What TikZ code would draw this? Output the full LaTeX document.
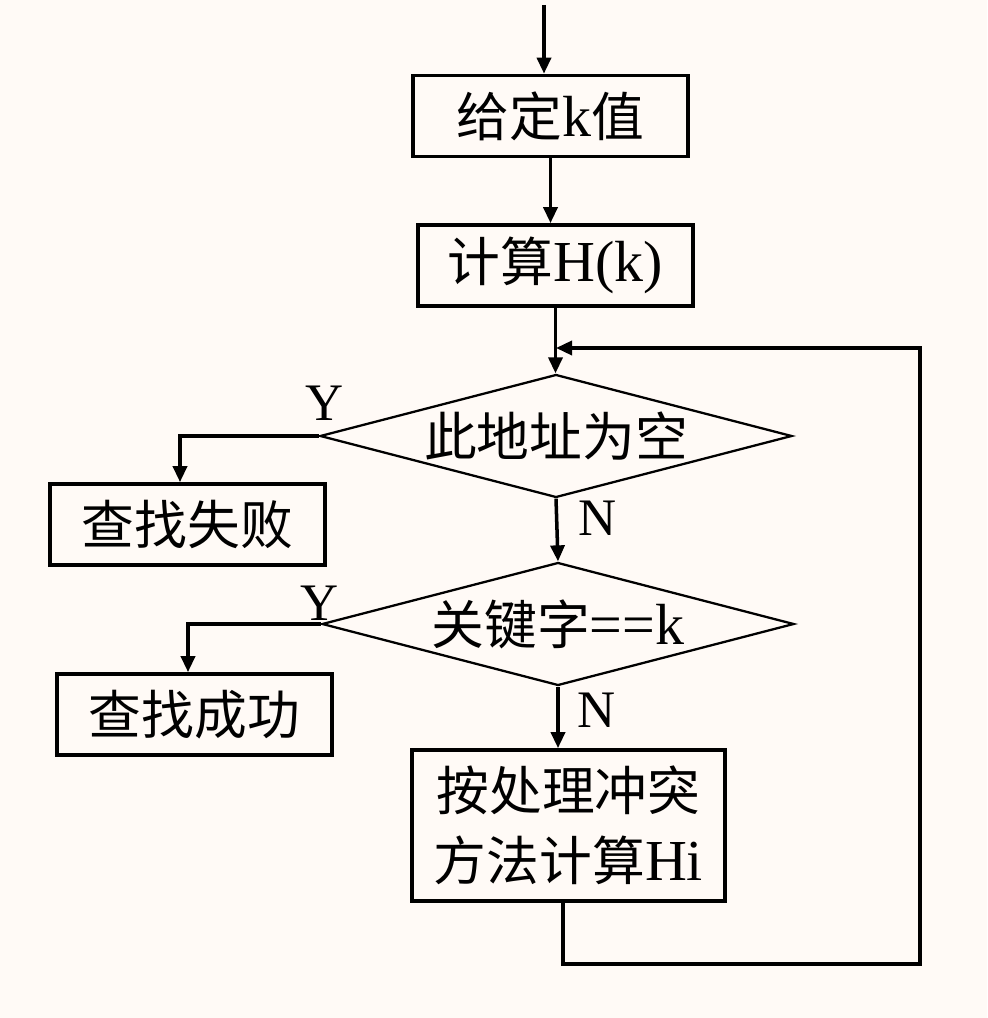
\documentclass[tikz,border=0pt]{standalone}
\usepackage{fontspec}
\setmainfont{Liberation Serif}
\newfontfamily\cjk{Noto Sans CJK SC}[Scale=0.91]
\usetikzlibrary{positioning,arrows.meta,shapes.geometric}
\definecolor{paper}{RGB}{255,250,246}

\begin{document}
\begin{tikzpicture}[
    box/.style={
        draw=black,
        line width=2.1pt,
        minimum width=5.5cm,
        minimum height=1.62cm,
        align=center,
        inner sep=0pt,
        font=\fontsize{33}{40}\selectfont
    },
    test/.style={
        draw=black,
        diamond,
        aspect=3.8,
        line width=1.3pt,
        minimum width=9.44cm,
        minimum height=2.46cm,
        inner sep=0pt,
        font=\fontsize{33}{40}\selectfont
    },
    lbl/.style={
        font=\fontsize{30}{37}\selectfont
    },
    arr/.style={
        -{Triangle[length=3.2mm,width=2.8mm]},
        line width=2pt
    }
]

\fill[paper] (0,0) rectangle (19.74,-20.36);
\useasboundingbox (0,0) rectangle (19.74,-20.36);

% ============================================================
% MAIN COLUMN
% ============================================================

\coordinate (start) at (10.88,-0.1);

\node[box] (given) at (11.01,-2.32)
{{\cjk 给定}k{\cjk 值}};

\node[box] (hash) at (11.11,-5.31)
{{\cjk 计算}H(k)};

\node[test] (empty) at (11.12,-8.72)
{\cjk 此地址为空};

\node[test] (equal) at (11.16,-12.48)
{{\cjk 关键字}==k};

\node[box, minimum width=6.26cm, minimum height=3.02cm] (rehash) at (11.37,-16.51)
{{\cjk 按处理冲突}\\{\cjk 方法计算}Hi};

\draw[arr] (start) -- (start |- given.north);
\draw[arr] (given.south) -- (given.south |- hash.north);
\draw[arr] (hash.south) -- (hash.south |- empty.north);
\draw[arr] (empty.south) -- (equal.north);
\draw[arr] (equal.south) -- (equal.south |- rehash.north);

\node[lbl] (n1) at (11.96,-10.36) {N};
\node[lbl] (n2) at (11.94,-14.2) {N};

% ============================================================
% YES BRANCHES
% ============================================================

\node[box] (fail) at (3.75,-10.49)
{\cjk 查找失败};

\node[box] (found) at (3.89,-14.29)
{\cjk 查找成功};

\draw[arr] (empty.west) -| ([xshift=-1.5mm]fail.north);
\draw[arr] (equal.west) -| ([xshift=-1.3mm]found.north);

\node[lbl] (y1) at (6.5,-8.06) {Y};
\node[lbl] (y2) at (6.4,-12.06) {Y};

% ============================================================
% LOOP BACK
% ============================================================

\coordinate (join) at (11.12,-6.96);
\coordinate (corner) at (18.4,-19.28);

\draw[arr] ([xshift=-1.1mm]rehash.south) |- (corner) |- (join);

\end{tikzpicture}
\end{document}
